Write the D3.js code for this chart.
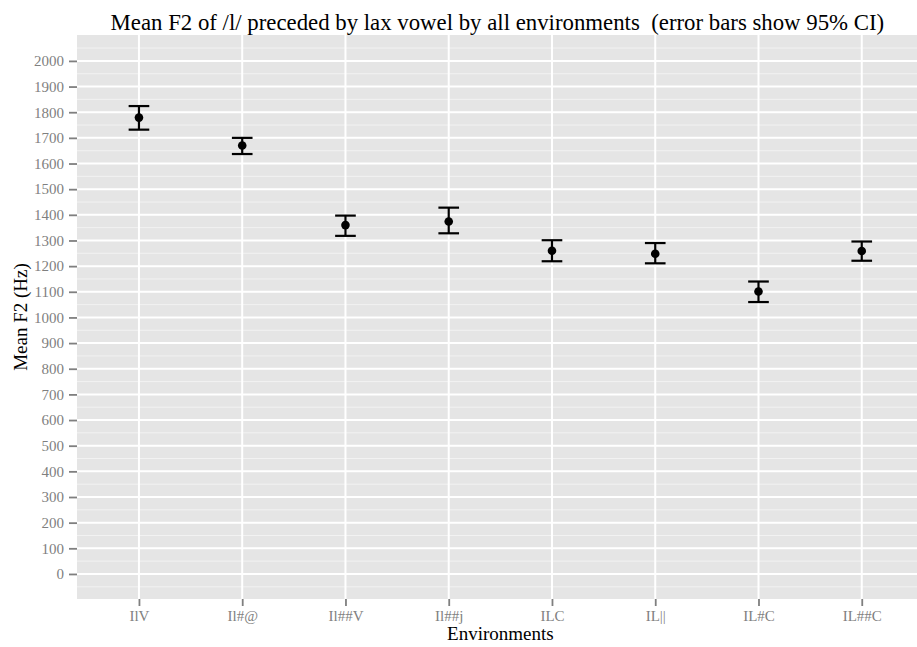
<!DOCTYPE html>
<html>
<head>
<meta charset="utf-8">
<script src="https://cdn.jsdelivr.net/npm/d3@7"></script>
<style>
  html, body { margin: 0; padding: 0; background: #ffffff; }
  svg { display: block; }
  svg text { font-family: 'Liberation Serif', 'DejaVu Serif', serif; }
</style>
</head>
<body>
<svg id="chart" width="917" height="647"></svg>
<script>
// Environments on the x axis
const categories = ["IlV", "Il#@", "Il##V", "Il##j", "ILC", "IL||", "IL#C", "IL##C"];
// Mean F2 (Hz) per environment
const meanF2 = [1779, 1670, 1360, 1374, 1260, 1248, 1101, 1259];
// 95% confidence interval bounds
const ciLower = [1732, 1637, 1318, 1328, 1219, 1211, 1060, 1221];
const ciUpper = [1824, 1700, 1397, 1428, 1301, 1290, 1140, 1296];
// y tick values
const yTicks = d3.range(0, 2001, 100);
const yMinor = d3.range(-50, 2051, 100);

const FONT = "Liberation Serif, DejaVu Serif, serif";
const rows = categories.map((c, i) => ({ env: c, mean: meanF2[i], lo: ciLower[i], hi: ciUpper[i] }));

const svg = d3.select("#chart");
const panel = { left: 77, top: 35, right: 923.7, bottom: 599 };

const x = d3.scalePoint().domain(categories).range([panel.left, panel.right]).padding(0.6);
const y = d3.scaleLinear().domain([-97.6, 2101]).range([panel.bottom, panel.top]);

// panel background
svg.append("rect")
  .attr("x", panel.left).attr("y", panel.top)
  .attr("width", panel.right - panel.left).attr("height", panel.bottom - panel.top)
  .attr("fill", "#e5e5e5");

// minor grid
svg.append("g").selectAll("line").data(yMinor).join("line")
  .attr("x1", panel.left).attr("x2", panel.right)
  .attr("y1", d => y(d)).attr("y2", d => y(d))
  .attr("stroke", "#f2f2f2").attr("stroke-width", 1);

// major grid
svg.append("g").selectAll("line").data(yTicks).join("line")
  .attr("x1", panel.left).attr("x2", panel.right)
  .attr("y1", d => y(d)).attr("y2", d => y(d))
  .attr("stroke", "#ffffff").attr("stroke-width", 2);
svg.append("g").selectAll("line").data(categories).join("line")
  .attr("x1", d => x(d)).attr("x2", d => x(d))
  .attr("y1", panel.top).attr("y2", panel.bottom)
  .attr("stroke", "#ffffff").attr("stroke-width", 2);

// y axis
const yAxis = svg.append("g")
  .attr("transform", `translate(${panel.left},0)`)
  .call(d3.axisLeft(y).tickValues(yTicks).tickSize(8).tickPadding(5).tickFormat(d3.format("d")));
yAxis.attr("font-family", FONT).attr("font-size", 15);
yAxis.select(".domain").remove();
yAxis.selectAll(".tick line").attr("stroke", "#7f7f7f").attr("stroke-width", 1.8);
yAxis.selectAll(".tick text").attr("fill", "#7f7f7f");

// x axis
const xAxis = svg.append("g")
  .attr("transform", `translate(0,${panel.bottom})`)
  .call(d3.axisBottom(x).tickSize(7).tickPadding(4));
xAxis.attr("font-family", FONT).attr("font-size", 15);
xAxis.select(".domain").remove();
xAxis.selectAll(".tick line").attr("stroke", "#7f7f7f").attr("stroke-width", 1.8);
xAxis.selectAll(".tick text").attr("fill", "#7f7f7f");

// error bars
const capHalf = x.step() * 0.1;
const bars = svg.append("g").attr("stroke", "#000").attr("stroke-width", 2.2).attr("fill", "none");
bars.selectAll("line.v").data(rows).join("line").attr("class", "v")
  .attr("x1", d => x(d.env)).attr("x2", d => x(d.env))
  .attr("y1", d => y(d.lo)).attr("y2", d => y(d.hi));
bars.selectAll("line.top").data(rows).join("line").attr("class", "top")
  .attr("x1", d => x(d.env) - capHalf).attr("x2", d => x(d.env) + capHalf)
  .attr("y1", d => y(d.hi)).attr("y2", d => y(d.hi));
bars.selectAll("line.bot").data(rows).join("line").attr("class", "bot")
  .attr("x1", d => x(d.env) - capHalf).attr("x2", d => x(d.env) + capHalf)
  .attr("y1", d => y(d.lo)).attr("y2", d => y(d.lo));

// mean points
svg.append("g").selectAll("circle").data(rows).join("circle")
  .attr("cx", d => x(d.env)).attr("cy", d => y(d.mean))
  .attr("r", 4.3).attr("fill", "#000");

// titles
svg.append("text")
  .attr("x", (panel.left + panel.right) / 2 - 3).attr("y", 30)
  .attr("text-anchor", "middle").attr("font-family", FONT)
  .attr("font-size", 22.8).attr("fill", "#000")
  .style("white-space", "pre")
  .text("Mean F2 of /l/ preceded by lax vowel by all environments  (error bars show 95% CI)");

svg.append("text")
  .attr("x", (panel.left + panel.right) / 2).attr("y", 640)
  .attr("text-anchor", "middle").attr("font-family", FONT)
  .attr("font-size", 19).attr("fill", "#000")
  .text("Environments");

svg.append("text")
  .attr("transform", `translate(27,${(panel.top + panel.bottom) / 2}) rotate(-90)`)
  .attr("text-anchor", "middle").attr("font-family", FONT)
  .attr("font-size", 19).attr("fill", "#000")
  .text("Mean F2 (Hz)");
</script>
</body>
</html>
